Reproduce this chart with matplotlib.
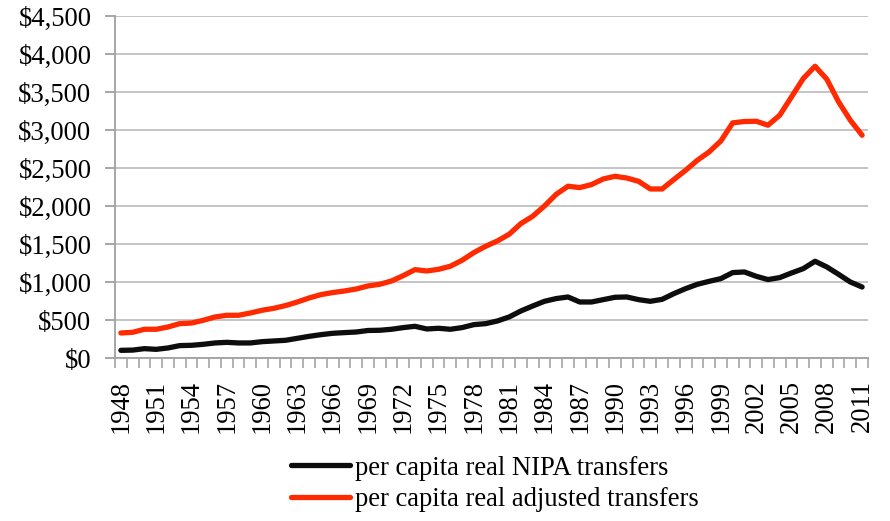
import matplotlib.pyplot as plt
import numpy as np

years = list(range(1948, 2012))

nipa = [101, 104, 123, 114, 132, 163, 167, 180, 198, 206,
        198, 198, 215, 224, 233, 259, 285, 307, 325, 334,
        342, 362, 365, 378, 400, 417, 382, 391, 378, 400,
        439, 452, 487, 540, 619, 684, 746, 782, 803, 737,
        737, 768, 799, 803, 768, 746, 772, 847, 913, 970,
        1009, 1045, 1124, 1132, 1075, 1032, 1058, 1119, 1176, 1273,
        1198, 1101, 1000, 934]

adjusted = [329, 338, 378, 378, 408, 452, 460, 496, 540, 562,
            562, 592, 628, 654, 690, 737, 790, 834, 861, 882,
            908, 948, 970, 1013, 1084, 1163, 1145, 1167, 1207, 1286,
            1387, 1470, 1540, 1628, 1769, 1865, 2000, 2154, 2260, 2242,
            2282, 2356, 2391, 2368, 2325, 2224, 2224, 2348, 2470, 2602,
            2712, 2857, 3094, 3112, 3115, 3063, 3195, 3436, 3678, 3839,
            3668, 3370, 3128, 2931]

plt.rcParams['font.family'] = ['Liberation Serif', 'DejaVu Serif']
fs = 19.2

fig = plt.figure(figsize=(8.9, 5.21), dpi=100)
ax = fig.add_axes([115 / 890, 1 - 358 / 521, (868 - 115) / 890, (358 - 16) / 521])

x = np.arange(len(years)) + 0.5
ax.plot(x, nipa, color='#0d0d0d', lw=3.8, solid_capstyle='round',
        label='per capita real NIPA transfers', zorder=3)
ax.plot(x, adjusted, color='#ff2a00', lw=3.8, solid_capstyle='round',
        label='per capita real adjusted transfers', zorder=3)

ax.set_xlim(0, len(years))
ax.set_ylim(0, 4500)

yt = np.arange(0, 4501, 500)
ax.set_yticks(yt)
ax.set_yticklabels([f'${v:,}' for v in yt])
ax.yaxis.grid(True, color='#c4c4c4', lw=1.4)
ax.set_axisbelow(True)

ax.set_xticks(x[::3])
ax.set_xticklabels([str(y) for y in years[::3]], rotation=90)
ax.set_xticks(np.arange(0, len(years) + 1), minor=True)

for s in ['top', 'right']:
    ax.spines[s].set_visible(False)
for s in ['left', 'bottom']:
    ax.spines[s].set_color('#a6a6a6')
    ax.spines[s].set_linewidth(1.4)

ax.tick_params(axis='y', direction='out', length=7, width=1.4, color='#a6a6a6',
               labelsize=fs, pad=10)
ax.tick_params(axis='x', which='major', length=0, labelsize=fs, pad=16)
ax.tick_params(axis='x', which='minor', direction='out', length=7, width=1.2,
               color='#a6a6a6')

fig.legend(loc='center left', bbox_to_anchor=(291 / 890, 1 - 484 / 521), frameon=False,
           fontsize=fs, handlelength=2.2, handletextpad=0.2,
           labelspacing=0.25, borderpad=0, borderaxespad=0)

fig.savefig('out.png', dpi=100)
